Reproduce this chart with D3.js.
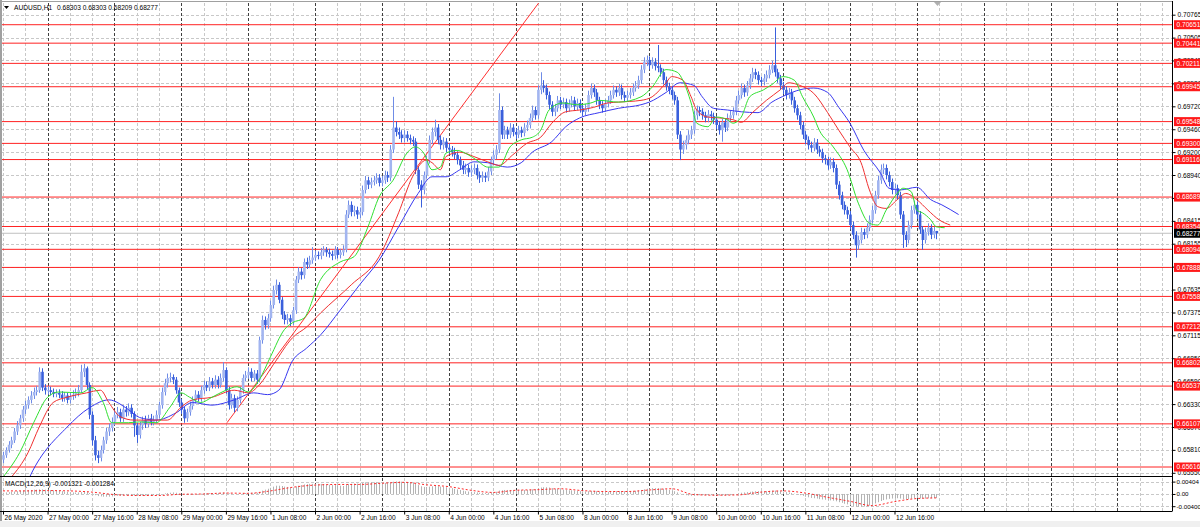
<!DOCTYPE html>
<html><head><meta charset="utf-8">
<script src="https://cdn.jsdelivr.net/npm/d3@7"></script>
<style>
body{margin:0;background:#fff;overflow:hidden}
svg{display:block}
text{font-family:"Liberation Sans",Arial,sans-serif;}
</style>
</head><body>
<svg id="c" width="1200" height="527"></svg>
<script>
// ---------------- DATA ----------------
const symbolTitle = "AUDUSD,H1";
const titleValues = "0.68303 0.68303 0.68209 0.68277";
const macdTitle = "MACD(12,26,9) -0.001321 -0.001284";

const openP = [
0.6570,0.6575,0.6581,0.6587,0.6592,0.6602,0.6609,0.6617,0.6627,0.6632,0.6638,0.6643,0.6647,0.6649,0.6670,0.6652,
0.6649,0.6649,0.6647,0.6645,0.6646,0.6644,0.6640,0.6643,0.6638,0.6642,0.6644,0.6646,0.6649,0.6670,0.6674,0.6655,
0.6621,0.6592,0.6575,0.6572,0.6581,0.6592,0.6602,0.6606,0.6613,0.6621,0.6624,0.6617,0.6627,0.6624,0.6629,0.6622,
0.6609,0.6598,0.6609,0.6615,0.6611,0.6617,0.6613,0.6615,0.6621,0.6632,0.6647,0.6657,0.6663,0.6664,0.6661,0.6649,
0.6635,0.6627,0.6617,0.6624,0.6631,0.6638,0.6644,0.6640,0.6649,0.6655,0.6652,0.6659,0.6655,0.6661,0.6655,0.6663,
0.6672,0.6649,0.6632,0.6640,0.6629,0.6638,0.6649,0.6663,0.6666,0.6670,0.6663,0.6668,0.6661,0.6706,0.6729,0.6723,
0.6731,0.6746,0.6763,0.6769,0.6752,0.6735,0.6729,0.6731,0.6727,0.6740,0.6775,0.6784,0.6780,0.6795,0.6792,0.6797,
0.6800,0.6803,0.6802,0.6806,0.6809,0.6806,0.6804,0.6802,0.6809,0.6803,0.6806,0.6809,0.6849,0.6860,0.6852,0.6854,
0.6849,0.6852,0.6877,0.6888,0.6883,0.6886,0.6888,0.6891,0.6885,0.6888,0.6894,0.6891,0.6923,0.6948,0.6943,0.6940,
0.6936,0.6940,0.6936,0.6934,0.6932,0.6900,0.6883,0.6877,0.6894,0.6911,0.6934,0.6943,0.6948,0.6934,0.6928,0.6932,
0.6925,0.6923,0.6920,0.6917,0.6911,0.6905,0.6900,0.6902,0.6897,0.6900,0.6902,0.6894,0.6891,0.6893,0.6891,0.6898,
0.6911,0.6917,0.6923,0.6968,0.6940,0.6945,0.6940,0.6948,0.6943,0.6940,0.6945,0.6942,0.6948,0.6951,0.6959,0.6968,
0.6962,0.6991,0.6996,0.6993,0.6985,0.6974,0.6966,0.6970,0.6979,0.6974,0.6977,0.6970,0.6975,0.6979,0.6972,0.6976,
0.6970,0.6966,0.6970,0.6985,0.6993,0.6988,0.6979,0.6974,0.6970,0.6975,0.6979,0.6985,0.6991,0.6988,0.6993,0.6985,
0.6982,0.6985,0.6988,0.6993,0.6996,0.7002,0.7014,0.7023,0.7025,0.7019,0.7023,0.7018,0.7016,0.7011,0.7002,0.6995,
0.6991,0.6985,0.6979,0.6940,0.6923,0.6928,0.6934,0.6940,0.6945,0.6962,0.6968,0.6966,0.6962,0.6959,0.6963,0.6961,
0.6957,0.6951,0.6945,0.6954,0.6948,0.6959,0.6962,0.6966,0.6979,0.6985,0.6993,0.6988,0.6996,0.7004,0.7011,0.7008,
0.7002,0.7000,0.7004,0.7008,0.7014,0.7019,0.7011,0.7004,0.6996,0.6991,0.6985,0.6988,0.6979,0.6970,0.6962,0.6951,
0.6940,0.6934,0.6928,0.6925,0.6931,0.6923,0.6920,0.6913,0.6911,0.6905,0.6909,0.6902,0.6883,0.6871,0.6860,0.6854,
0.6849,0.6837,0.6826,0.6814,0.6820,0.6829,0.6826,0.6834,0.6843,0.6854,0.6871,0.6888,0.6900,0.6902,0.6894,0.6886,
0.6877,0.6879,0.6871,0.6849,0.6826,0.6820,0.6837,0.6854,0.6860,0.6849,0.6832,0.6820,0.6829,0.6834,0.6826,0.68303];

const highP = [
0.6579,0.6584,0.6591,0.6596,0.6606,0.6614,0.6621,0.6631,0.6637,0.6642,0.6648,0.6652,0.6654,0.6675,0.6674,0.6656,
0.6654,0.6653,0.6651,0.6650,0.6650,0.6648,0.6647,0.6646,0.6646,0.6649,0.6651,0.6655,0.6678,0.6679,0.6676,0.6658,
0.6625,0.6597,0.6580,0.6586,0.6596,0.6606,0.6611,0.6618,0.6626,0.6630,0.6628,0.6632,0.6631,0.6634,0.6633,0.6625,
0.6612,0.6613,0.6619,0.6620,0.6621,0.6622,0.6620,0.6626,0.6636,0.6652,0.6662,0.6668,0.6669,0.6667,0.6664,0.6652,
0.6639,0.6630,0.6628,0.6636,0.6642,0.6649,0.6648,0.6654,0.6660,0.6659,0.6664,0.6663,0.6666,0.6665,0.6668,0.6681,
0.6675,0.6653,0.6645,0.6644,0.6642,0.6653,0.6667,0.6671,0.6675,0.6674,0.6672,0.6672,0.6710,0.6734,0.6733,0.6736,
0.6751,0.6768,0.6775,0.6772,0.6755,0.6739,0.6736,0.6735,0.6744,0.6779,0.6789,0.6788,0.6799,0.6800,0.6802,0.6812,
0.6808,0.6807,0.6811,0.6813,0.6812,0.6810,0.6808,0.6813,0.6812,0.6810,0.6814,0.6854,0.6865,0.6864,0.6859,0.6858,
0.6857,0.6882,0.6893,0.6892,0.6891,0.6893,0.6896,0.6895,0.6893,0.6899,0.6898,0.6928,0.6983,0.6955,0.6948,0.6945,
0.6945,0.6944,0.6940,0.6938,0.6936,0.6904,0.6888,0.6898,0.6916,0.6939,0.6948,0.6957,0.6952,0.6939,0.6937,0.6936,
0.6930,0.6927,0.6925,0.6921,0.6915,0.6910,0.6907,0.6906,0.6905,0.6907,0.6906,0.6898,0.6898,0.6897,0.6903,0.6915,
0.6922,0.6928,0.6987,0.6972,0.6950,0.6949,0.6953,0.6952,0.6947,0.6950,0.6949,0.6953,0.6956,0.6964,0.6973,0.6972,
0.6996,0.7011,0.7002,0.6997,0.6989,0.6978,0.6975,0.6984,0.6983,0.6982,0.6981,0.6980,0.6984,0.6983,0.6981,0.6980,
0.6974,0.6975,0.6990,0.6998,0.6997,0.6992,0.6983,0.6978,0.6980,0.6984,0.6990,0.6996,0.6995,0.6998,0.6997,0.6989,
0.6990,0.6993,0.6998,0.7001,0.7007,0.7019,0.7028,0.7030,0.7029,0.7028,0.7027,0.7042,0.7020,0.7015,0.7006,0.6999,
0.6995,0.6989,0.6983,0.6944,0.6933,0.6939,0.6945,0.6950,0.6967,0.6973,0.6972,0.6970,0.6966,0.6968,0.6967,0.6965,
0.6961,0.6955,0.6958,0.6958,0.6964,0.6967,0.6971,0.6984,0.6990,0.6998,0.6997,0.7001,0.7009,0.7016,0.7015,0.7012,
0.7006,0.7009,0.7013,0.7019,0.7024,0.7062,0.7015,0.7008,0.7000,0.6995,0.6993,0.6992,0.6983,0.6974,0.6966,0.6955,
0.6944,0.6938,0.6932,0.6936,0.6935,0.6927,0.6924,0.6917,0.6915,0.6914,0.6913,0.6906,0.6887,0.6875,0.6864,0.6858,
0.6853,0.6841,0.6830,0.6825,0.6834,0.6833,0.6839,0.6848,0.6859,0.6876,0.6893,0.6906,0.6907,0.6906,0.6898,0.6890,
0.6884,0.6883,0.6875,0.6853,0.6830,0.6842,0.6859,0.6865,0.6864,0.6853,0.6836,0.6834,0.6839,0.6838,0.6835,0.68303];

const lowP = [
0.6566,0.6572,0.6578,0.6583,0.6589,0.6598,0.6605,0.6613,0.6622,0.6628,0.6634,0.6639,0.6643,0.6646,0.6648,0.6644,
0.6644,0.6643,0.6641,0.6641,0.6640,0.6636,0.6636,0.6634,0.6634,0.6638,0.6640,0.6642,0.6646,0.6664,0.6650,0.6616,
0.6586,0.6569,0.6566,0.6568,0.6577,0.6588,0.6597,0.6602,0.6609,0.6617,0.6613,0.6613,0.6619,0.6620,0.6618,0.6596,
0.6589,0.6594,0.6604,0.6606,0.6607,0.6609,0.6609,0.6611,0.6617,0.6628,0.6643,0.6652,0.6658,0.6656,0.6645,0.6630,
0.6622,0.6612,0.6613,0.6620,0.6627,0.6634,0.6636,0.6636,0.6645,0.6648,0.6648,0.6651,0.6651,0.6651,0.6652,0.6659,
0.6645,0.6627,0.6628,0.6624,0.6625,0.6634,0.6645,0.6659,0.6662,0.6659,0.6659,0.6656,0.6658,0.6702,0.6718,0.6719,
0.6727,0.6742,0.6758,0.6748,0.6730,0.6724,0.6724,0.6722,0.6723,0.6736,0.6771,0.6775,0.6776,0.6787,0.6788,0.6793,
0.6796,0.6798,0.6798,0.6802,0.6801,0.6800,0.6797,0.6798,0.6799,0.6799,0.6802,0.6806,0.6845,0.6847,0.6847,0.6844,
0.6845,0.6848,0.6873,0.6878,0.6879,0.6882,0.6884,0.6881,0.6881,0.6884,0.6886,0.6887,0.6919,0.6938,0.6935,0.6931,
0.6931,0.6932,0.6929,0.6927,0.6895,0.6878,0.6857,0.6872,0.6890,0.6907,0.6929,0.6938,0.6929,0.6923,0.6923,0.6920,
0.6918,0.6915,0.6912,0.6906,0.6900,0.6895,0.6895,0.6892,0.6892,0.6895,0.6889,0.6885,0.6886,0.6886,0.6887,0.6894,
0.6906,0.6912,0.6919,0.6935,0.6935,0.6935,0.6936,0.6938,0.6935,0.6936,0.6937,0.6938,0.6944,0.6947,0.6955,0.6957,
0.6958,0.6986,0.6988,0.6980,0.6969,0.6961,0.6961,0.6966,0.6969,0.6970,0.6965,0.6966,0.6971,0.6967,0.6968,0.6965,
0.6961,0.6962,0.6966,0.6981,0.6983,0.6974,0.6969,0.6965,0.6966,0.6971,0.6975,0.6981,0.6983,0.6984,0.6980,0.6977,
0.6978,0.6981,0.6984,0.6989,0.6992,0.6998,0.7010,0.7018,0.7014,0.7015,0.7013,0.7011,0.7006,0.6997,0.6990,0.6986,
0.6980,0.6974,0.6935,0.6911,0.6918,0.6923,0.6929,0.6935,0.6941,0.6957,0.6961,0.6957,0.6954,0.6954,0.6956,0.6952,
0.6946,0.6940,0.6932,0.6943,0.6944,0.6955,0.6958,0.6962,0.6975,0.6981,0.6983,0.6984,0.6992,0.7000,0.7003,0.6997,
0.6995,0.6996,0.7000,0.7004,0.7010,0.7006,0.6999,0.6991,0.6986,0.6980,0.6981,0.6974,0.6965,0.6957,0.6946,0.6935,
0.6929,0.6923,0.6920,0.6921,0.6918,0.6915,0.6908,0.6906,0.6900,0.6901,0.6897,0.6878,0.6866,0.6855,0.6849,0.6844,
0.6832,0.6821,0.6800,0.6809,0.6816,0.6821,0.6822,0.6830,0.6839,0.6850,0.6867,0.6884,0.6895,0.6889,0.6881,0.6872,
0.6872,0.6866,0.6844,0.6811,0.6812,0.6816,0.6833,0.6850,0.6844,0.6827,0.6809,0.6816,0.6825,0.6821,0.6822,0.68209];

const closeP = [
0.6575,0.6581,0.6587,0.6592,0.6602,0.6609,0.6617,0.6627,0.6632,0.6638,0.6643,0.6647,0.6649,0.6670,0.6652,0.6649,
0.6649,0.6647,0.6645,0.6646,0.6644,0.6640,0.6643,0.6638,0.6642,0.6644,0.6646,0.6649,0.6670,0.6674,0.6655,0.6621,
0.6592,0.6575,0.6572,0.6581,0.6592,0.6602,0.6606,0.6613,0.6621,0.6624,0.6617,0.6627,0.6624,0.6629,0.6622,0.6609,
0.6598,0.6609,0.6615,0.6611,0.6617,0.6613,0.6615,0.6621,0.6632,0.6647,0.6657,0.6663,0.6664,0.6661,0.6649,0.6635,
0.6627,0.6617,0.6624,0.6631,0.6638,0.6644,0.6640,0.6649,0.6655,0.6652,0.6659,0.6655,0.6661,0.6655,0.6663,0.6672,
0.6649,0.6632,0.6640,0.6629,0.6638,0.6649,0.6663,0.6666,0.6670,0.6663,0.6668,0.6661,0.6706,0.6729,0.6723,0.6731,
0.6746,0.6763,0.6769,0.6752,0.6735,0.6729,0.6731,0.6727,0.6740,0.6775,0.6784,0.6780,0.6795,0.6792,0.6797,0.6800,
0.6803,0.6802,0.6806,0.6809,0.6806,0.6804,0.6802,0.6809,0.6803,0.6806,0.6809,0.6849,0.6860,0.6852,0.6854,0.6849,
0.6852,0.6877,0.6888,0.6883,0.6886,0.6888,0.6891,0.6885,0.6888,0.6894,0.6891,0.6923,0.6948,0.6943,0.6940,0.6936,
0.6940,0.6936,0.6934,0.6932,0.6900,0.6883,0.6877,0.6894,0.6911,0.6934,0.6943,0.6948,0.6934,0.6928,0.6932,0.6925,
0.6923,0.6920,0.6917,0.6911,0.6905,0.6900,0.6902,0.6897,0.6900,0.6902,0.6894,0.6891,0.6893,0.6891,0.6898,0.6911,
0.6917,0.6923,0.6968,0.6940,0.6945,0.6940,0.6948,0.6943,0.6940,0.6945,0.6942,0.6948,0.6951,0.6959,0.6968,0.6962,
0.6991,0.6996,0.6993,0.6985,0.6974,0.6966,0.6970,0.6979,0.6974,0.6977,0.6970,0.6975,0.6979,0.6972,0.6976,0.6970,
0.6966,0.6970,0.6985,0.6993,0.6988,0.6979,0.6974,0.6970,0.6975,0.6979,0.6985,0.6991,0.6988,0.6993,0.6985,0.6982,
0.6985,0.6988,0.6993,0.6996,0.7002,0.7014,0.7023,0.7025,0.7019,0.7023,0.7018,0.7016,0.7011,0.7002,0.6995,0.6991,
0.6985,0.6979,0.6940,0.6923,0.6928,0.6934,0.6940,0.6945,0.6962,0.6968,0.6966,0.6962,0.6959,0.6963,0.6961,0.6957,
0.6951,0.6945,0.6954,0.6948,0.6959,0.6962,0.6966,0.6979,0.6985,0.6993,0.6988,0.6996,0.7004,0.7011,0.7008,0.7002,
0.7000,0.7004,0.7008,0.7014,0.7019,0.7011,0.7004,0.6996,0.6991,0.6985,0.6988,0.6979,0.6970,0.6962,0.6951,0.6940,
0.6934,0.6928,0.6925,0.6931,0.6923,0.6920,0.6913,0.6911,0.6905,0.6909,0.6902,0.6883,0.6871,0.6860,0.6854,0.6849,
0.6837,0.6826,0.6814,0.6820,0.6829,0.6826,0.6834,0.6843,0.6854,0.6871,0.6888,0.6900,0.6902,0.6894,0.6886,0.6877,
0.6879,0.6871,0.6849,0.6826,0.6820,0.6837,0.6854,0.6860,0.6849,0.6832,0.6820,0.6829,0.6834,0.6826,0.68303,0.68277];

// Alligator lines: [bar, price]
const jawPoints = [[6,0.6524],[10,0.6553],[23,0.6607],[31,0.6629],[38,0.6638],[45,0.6627],[49,0.6618],[55,0.6615],[62,0.6623],[68,0.6635],[75,0.6632],[83,0.6638],[90,0.6646],[95,0.6644],[99,0.6649],[104,0.6683],[109,0.6697],[114,0.6712],[121,0.6740],[128,0.6769],[135,0.6797],[142,0.6835],[149,0.6873],[154,0.6892],[159,0.6892],[164,0.6900],[169,0.6909],[174,0.6908],[181,0.6903],[186,0.6908],[190,0.6920],[197,0.6932],[202,0.6949],[207,0.6959],[214,0.6965],[221,0.6970],[229,0.6974],[232,0.6977],[238,0.6988],[243,0.6999],[248,0.6996],[251,0.6983],[255,0.6970],[260,0.6968],[265,0.6966],[271,0.6965],[276,0.6977],[281,0.6985],[286,0.6991],[291,0.6993],[296,0.6988],[300,0.6971],[304,0.6953],[309,0.6922],[315,0.6896],[318,0.6879],[322,0.6877],[328,0.6880],[333,0.6866],[337,0.6860],[343,0.6849]];
const teethPoints = [[3,0.6550],[9,0.6578],[13,0.6607],[18,0.6635],[23,0.6641],[30,0.6646],[35,0.6649],[38,0.6635],[42,0.6619],[47,0.6615],[53,0.6615],[59,0.6615],[64,0.6630],[68,0.6638],[75,0.6641],[83,0.6649],[88,0.6646],[92,0.6655],[97,0.6678],[104,0.6709],[109,0.6721],[114,0.6737],[125,0.6769],[135,0.6801],[142,0.6851],[147,0.6892],[152,0.6911],[154,0.6908],[157,0.6900],[159,0.6915],[164,0.6920],[169,0.6915],[174,0.6909],[178,0.6905],[183,0.6917],[188,0.6930],[193,0.6937],[197,0.6953],[202,0.6966],[207,0.6968],[212,0.6971],[217,0.6976],[221,0.6977],[229,0.6979],[233,0.6983],[238,0.6999],[240,0.7006],[244,0.7002],[247,0.6983],[249,0.6968],[253,0.6960],[257,0.6959],[262,0.6957],[265,0.6954],[269,0.6965],[274,0.6979],[279,0.6991],[282,0.6999],[286,0.6996],[291,0.6987],[296,0.6965],[300,0.6945],[304,0.6926],[308,0.6908],[311,0.6877],[314,0.6858],[317,0.6856],[321,0.6866],[324,0.6873],[328,0.6866],[332,0.6854],[336,0.6843],[340,0.6837]];
const lipsPoints = [[0,0.6550],[6,0.6578],[11,0.6612],[16,0.6641],[20,0.6647],[28,0.6646],[32,0.6652],[36,0.6635],[39,0.6612],[45,0.6612],[49,0.6613],[55,0.6612],[60,0.6630],[64,0.6646],[67,0.6641],[71,0.6635],[75,0.6641],[80,0.6649],[84,0.6653],[88,0.6647],[92,0.6661],[96,0.6687],[101,0.6718],[104,0.6726],[108,0.6731],[114,0.6775],[121,0.6795],[126,0.6801],[131,0.6835],[135,0.6869],[140,0.6888],[145,0.6919],[148,0.6926],[151,0.6919],[154,0.6900],[157,0.6903],[159,0.6919],[163,0.6922],[167,0.6917],[170,0.6911],[174,0.6903],[178,0.6903],[182,0.6926],[186,0.6934],[190,0.6937],[193,0.6945],[196,0.6968],[201,0.6976],[206,0.6974],[211,0.6976],[214,0.6979],[221,0.6977],[229,0.6983],[233,0.6994],[238,0.7014],[242,0.7011],[244,0.7002],[247,0.6976],[249,0.6953],[253,0.6949],[256,0.6960],[260,0.6957],[262,0.6953],[265,0.6960],[268,0.6983],[273,0.6991],[276,0.6997],[280,0.7006],[284,0.7002],[287,0.6983],[291,0.6960],[293,0.6945],[298,0.6926],[303,0.6900],[307,0.6862],[311,0.6839],[314,0.6837],[317,0.6854],[321,0.6873],[323,0.6879],[326,0.6875],[328,0.6854],[330,0.6851],[333,0.6843],[335,0.6835],[338,0.6834]];
const trendPoints = [[80.4,0.6612],[193,0.7093]];

const levels = [0.70651,0.70441,0.70211,0.69945,0.69548,0.69300,0.69116,0.68689,0.68354,0.68094,0.67888,0.67558,0.67212,0.66802,0.66537,0.66107,0.65616];
const levelLabels = ["0.70651","0.70441","0.70211","0.69945","0.69548","0.69300","0.69116","0.68689","0.68354","0.68094","0.67888","0.67558","0.67212","0.66802","0.66537","0.66107","0.65616"];
const lastPrice = 0.68277;
const lastPriceLabel = "0.68277";

const priceTicks = [0.65550,0.65811,0.66072,0.66332,0.66593,0.66854,0.67115,0.67375,0.67636,0.67897,0.68158,0.68418,0.68679,0.68940,0.69201,0.69461,0.69722,0.69983,0.70244,0.70504,0.70765];
const priceTickLabels = ["0.65550","0.65810","0.66070","0.66330","0.66590","0.66850","0.67115","0.67375","0.67635","0.67895","0.68155","0.68415","0.68675","0.68940","0.69200","0.69460","0.69720","0.69980","0.70245","0.70505","0.70765"];

const timeBars = [0,16,32,48,64,80,96,112,128,144,160,176,192,208,224,240,256,272,288,304,320];
const timeLabels = ["26 May 2020","27 May 00:00","27 May 16:00","28 May 08:00","29 May 00:00","29 May 16:00","1 Jun 08:00","2 Jun 00:00","2 Jun 16:00","3 Jun 08:00","4 Jun 00:00","4 Jun 16:00","5 Jun 08:00","8 Jun 00:00","8 Jun 16:00","9 Jun 08:00","10 Jun 00:00","10 Jun 16:00","11 Jun 08:00","12 Jun 00:00","12 Jun 16:00"];

const macdMain = [
0.0004,0.0005,0.0006,0.0007,0.0008,0.0009,0.0010,0.0011,0.0012,0.0013,0.0013,0.0014,0.0014,0.0015,0.0015,0.0014,
0.0014,0.0013,0.0012,0.0011,0.0010,0.0009,0.0008,0.0007,0.0006,0.0005,0.0005,0.0005,0.0006,0.0007,0.0006,0.0003,
-0.0001,-0.0004,-0.0007,-0.0008,-0.0009,-0.0009,-0.0009,-0.0008,-0.0007,-0.0006,-0.0006,-0.0005,-0.0004,-0.0004,-0.0004,-0.0005,
-0.0006,-0.0006,-0.0005,-0.0005,-0.0004,-0.0004,-0.0004,-0.0003,-0.0002,0.0000,0.0002,0.0003,0.0004,0.0005,0.0004,0.0002,
0.0000,-0.0001,-0.0002,-0.0002,-0.0001,0.0000,0.0000,0.0001,0.0002,0.0002,0.0003,0.0003,0.0003,0.0003,0.0004,0.0005,
0.0004,0.0002,0.0001,0.0000,0.0000,0.0001,0.0002,0.0003,0.0004,0.0004,0.0004,0.0004,0.0007,0.0011,0.0014,0.0017,
0.0020,0.0024,0.0027,0.0027,0.0026,0.0024,0.0023,0.0021,0.0021,0.0024,0.0027,0.0029,0.0031,0.0032,0.0033,0.0033,
0.0033,0.0033,0.0033,0.0032,0.0031,0.0030,0.0029,0.0029,0.0028,0.0027,0.0026,0.0029,0.0032,0.0033,0.0034,0.0034,
0.0034,0.0036,0.0038,0.0038,0.0038,0.0038,0.0038,0.0037,0.0036,0.0036,0.0035,0.0037,0.0040,0.0041,0.0041,0.0040,
0.0039,0.0038,0.0037,0.0036,0.0033,0.0029,0.0025,0.0023,0.0023,0.0024,0.0025,0.0026,0.0025,0.0024,0.0023,0.0022,
0.0020,0.0019,0.0017,0.0015,0.0013,0.0011,0.0009,0.0008,0.0007,0.0006,0.0005,0.0004,0.0003,0.0003,0.0004,0.0005,
0.0006,0.0007,0.0011,0.0012,0.0013,0.0013,0.0013,0.0013,0.0013,0.0013,0.0013,0.0013,0.0013,0.0014,0.0015,0.0016,
0.0019,0.0021,0.0022,0.0022,0.0021,0.0019,0.0017,0.0016,0.0015,0.0014,0.0013,0.0012,0.0012,0.0011,0.0010,0.0009,
0.0008,0.0008,0.0009,0.0010,0.0010,0.0009,0.0008,0.0007,0.0007,0.0007,0.0008,0.0009,0.0009,0.0009,0.0009,0.0009,
0.0009,0.0009,0.0010,0.0010,0.0011,0.0013,0.0015,0.0017,0.0018,0.0019,0.0019,0.0019,0.0018,0.0017,0.0015,0.0013,
0.0011,0.0009,0.0005,0.0001,-0.0002,-0.0004,-0.0005,-0.0006,-0.0005,-0.0004,-0.0004,-0.0004,-0.0004,-0.0004,-0.0004,-0.0004,
-0.0004,-0.0005,-0.0005,-0.0005,-0.0004,-0.0003,-0.0002,0.0000,0.0002,0.0004,0.0005,0.0006,0.0007,0.0008,0.0009,0.0009,
0.0009,0.0009,0.0009,0.0010,0.0011,0.0011,0.0010,0.0009,0.0008,0.0006,0.0005,0.0003,0.0001,-0.0001,-0.0004,-0.0006,
-0.0009,-0.0011,-0.0013,-0.0014,-0.0015,-0.0017,-0.0018,-0.0019,-0.0020,-0.0021,-0.0022,-0.0024,-0.0027,-0.0029,-0.0032,-0.0034,
-0.0037,-0.0039,-0.0041,-0.0042,-0.0042,-0.0041,-0.0040,-0.0038,-0.0035,-0.0031,-0.0027,-0.0023,-0.0020,-0.0018,-0.0016,-0.0015,
-0.0014,-0.0014,-0.0015,-0.0017,-0.0018,-0.0017,-0.0015,-0.0013,-0.0013,-0.0014,-0.0015,-0.0015,-0.0014,-0.0014,-0.0013,-0.001321];
const signalPoints = [[0,0.0010],[8,0.0010],[16,0.0011],[24,0.0010],[32,0.0006],[40,-0.0002],[48,-0.0005],[56,-0.0005],[64,-0.0001],[72,0.0000],[80,0.0003],[88,0.0002],[96,0.0010],[104,0.0022],[112,0.0029],[120,0.0031],[128,0.0031],[136,0.0035],[144,0.0038],[152,0.0030],[160,0.0024],[168,0.0012],[176,0.0005],[184,0.0012],[192,0.0014],[200,0.0017],[208,0.0011],[216,0.0008],[224,0.0008],[232,0.0013],[240,0.0017],[248,-0.0002],[256,-0.0004],[264,-0.0003],[272,0.0006],[280,0.0010],[288,0.0003],[296,-0.0011],[304,-0.0024],[312,-0.0038],[320,-0.0025],[328,-0.0015],[335,-0.001284]];
const macdTicks = [0.00404,0,-0.004];
const macdTickLabels = ["0.00404","0.00","-0.00400"];

// ---------------- DRAW ----------------
const svg = d3.select('#c');
const W = 1200, H = 527;
const plotL = 1, plotR = 1172, plotT = 3, plotB = 476, macdT = 477, macdB = 511;
const FS = 6.6;

svg.append('rect').attr('width',W).attr('height',H).attr('fill','#fff');
svg.append('rect').attr('x',0).attr('y',521).attr('width',W).attr('height',6).attr('fill','#f0f0f0');

const x = d3.scaleLinear().domain([0,335]).range([3,936.3]);
const y = d3.scaleLinear().domain([priceTicks[0], priceTicks[priceTicks.length-1]]).range([472.8,14.7]);
const ym = d3.scaleLinear().domain([-0.004,0.00404]).range([506.2,481.6]);

const defs = svg.append('defs');
defs.append('clipPath').attr('id','clipMain').append('rect').attr('x',plotL).attr('y',plotT).attr('width',plotR-plotL).attr('height',plotB-plotT);
defs.append('clipPath').attr('id','clipMacd').append('rect').attr('x',plotL).attr('y',macdT).attr('width',plotR-plotL).attr('height',macdB-macdT);

// grid
const grid = svg.append('g');
grid.selectAll('line.hg').data(priceTicks).join('line')
  .attr('x1',plotL).attr('x2',plotR)
  .attr('y1',d=>Math.round(y(d))+0.5).attr('y2',d=>Math.round(y(d))+0.5)
  .attr('stroke','#c8c8c8').attr('stroke-dasharray','3,2').attr('stroke-width',1);
grid.selectAll('line.mg').data(macdTicks).join('line')
  .attr('x1',plotL).attr('x2',plotR)
  .attr('y1',d=>Math.round(ym(d))+0.5).attr('y2',d=>Math.round(ym(d))+0.5)
  .attr('stroke','#c8c8c8').attr('stroke-dasharray','3,2');
const vBars = d3.range(0, 420, 8);
grid.selectAll('line.vg').data(vBars).join('line')
  .attr('x1',d=>Math.round(x(d))+0.5).attr('x2',d=>Math.round(x(d))+0.5)
  .attr('y1',plotT).attr('y2',macdB)
  .attr('stroke',d=>((d-16)%24===0)?'#404040':'#c8c8c8')
  .attr('stroke-dasharray','3,2');

// level lines & price line
const gm = svg.append('g').attr('clip-path','url(#clipMain)');
gm.append('line').attr('x1',plotL).attr('x2',plotR).attr('y1',y(lastPrice)).attr('y2',y(lastPrice))
  .attr('stroke','#c0c0c0').attr('stroke-width',1);
gm.selectAll('line.lv').data(levels).join('line')
  .attr('x1',0).attr('x2',plotR).attr('y1',d=>y(d)).attr('y2',d=>y(d))
  .attr('stroke','#ff2222').attr('stroke-width',1);

// trendline
const lineGen = d3.line().x(d=>x(d[0])).y(d=>y(d[1]));
gm.append('path').attr('d',lineGen(trendPoints)).attr('fill','none').attr('stroke','#ff3030').attr('stroke-width',1);

// candles
const bars = d3.range(closeP.length);
const cg = gm.append('g');
cg.selectAll('line.wick').data(bars).join('line')
  .attr('x1',i=>Math.round(x(i))+0.5).attr('x2',i=>Math.round(x(i))+0.5)
  .attr('y1',i=>y(highP[i])).attr('y2',i=>y(lowP[i]))
  .attr('stroke',i=>closeP[i]>=openP[i]?'#6f8ce6':'#3a60dc').attr('stroke-width',1);
cg.selectAll('rect.body').data(bars).join('rect')
  .attr('x',i=>x(i)-0.8).attr('width',2.6)
  .attr('y',i=>y(Math.max(openP[i],closeP[i])))
  .attr('height',i=>Math.max(1,Math.abs(y(openP[i])-y(closeP[i]))))
  .attr('fill',i=>closeP[i]>=openP[i]?'#a2b5f0':'#3a60dc');

// alligator
const curve = d3.line().x(d=>x(d[0])).y(d=>y(d[1])).curve(d3.curveMonotoneX);
gm.append('path').attr('d',curve(jawPoints)).attr('fill','none').attr('stroke','#3838f0').attr('stroke-width',1);
gm.append('path').attr('d',curve(teethPoints)).attr('fill','none').attr('stroke','#f03030').attr('stroke-width',1);
gm.append('path').attr('d',curve(lipsPoints)).attr('fill','none').attr('stroke','#30e030').attr('stroke-width',1);

// MACD
const gmac = svg.append('g').attr('clip-path','url(#clipMacd)');
gmac.selectAll('line.h').data(bars).join('line')
  .attr('x1',i=>Math.round(x(i))+0.5).attr('x2',i=>Math.round(x(i))+0.5)
  .attr('y1',ym(0)).attr('y2',i=>ym(macdMain[i]))
  .attr('stroke','#b4b4b4').attr('stroke-width',1);
const sline = d3.line().x(d=>x(d[0])).y(d=>ym(d[1])).curve(d3.curveMonotoneX);
gmac.append('path').attr('d',sline(signalPoints)).attr('fill','none').attr('stroke','#ff2a2a')
  .attr('stroke-width',1).attr('stroke-dasharray','2,2');

// frames
svg.append('rect').attr('x',0).attr('y',0).attr('width',2).attr('height',521).attr('fill','#a0a0a0');
svg.append('line').attr('x1',0).attr('x2',plotR).attr('y1',1.5).attr('y2',1.5).attr('stroke','#a0a0a0');
svg.append('line').attr('x1',plotR+0.5).attr('x2',plotR+0.5).attr('y1',1).attr('y2',macdB+0.5).attr('stroke','#000');
svg.append('line').attr('x1',0).attr('x2',plotR).attr('y1',plotB+0.5).attr('y2',plotB+0.5).attr('stroke','#000');
svg.append('line').attr('x1',0).attr('x2',plotR).attr('y1',macdB+0.5).attr('y2',macdB+0.5).attr('stroke','#000');

// price axis
const ax = svg.append('g').attr('transform',`translate(${plotR+0.5},0)`)
  .call(d3.axisRight(y).tickValues(priceTicks).tickFormat((d,i)=>priceTickLabels[i]).tickSize(3).tickPadding(2));
ax.select('.domain').remove();
ax.selectAll('text').attr('font-size',FS).attr('font-family','"Liberation Sans",Arial,sans-serif').attr('fill','#000');
ax.selectAll('line').attr('stroke','#000');

const axm = svg.append('g').attr('transform',`translate(${plotR+0.5},0)`)
  .call(d3.axisRight(ym).tickValues(macdTicks).tickFormat((d,i)=>macdTickLabels[i]).tickSize(3).tickPadding(1));
axm.select('.domain').remove();
axm.selectAll('text').attr('font-size',6.2).attr('font-family','"Liberation Sans",Arial,sans-serif').attr('fill','#000');

// level labels
const lg = svg.append('g');
levels.forEach((v,i)=>{
  const yy = y(v);
  lg.append('rect').attr('x',plotR+2).attr('y',yy-4.5).attr('width',W-plotR-2).attr('height',9).attr('fill','#ff1a1a');
  lg.append('text').attr('x',plotR+4.5).attr('y',yy+2.4).attr('font-size',FS).attr('fill','#fff').text(levelLabels[i]);
});
{
  const yy = y(lastPrice);
  lg.append('rect').attr('x',plotR+2).attr('y',yy-4.5).attr('width',W-plotR-2).attr('height',9).attr('fill','#000');
  lg.append('text').attr('x',plotR+4.5).attr('y',yy+2.4).attr('font-size',FS).attr('fill','#fff').text(lastPriceLabel);
}

// time axis
const axx = svg.append('g').attr('transform',`translate(0,${macdB+0.5})`)
  .call(d3.axisBottom(x).tickValues(timeBars).tickFormat((d,i)=>timeLabels[i]).tickSize(3).tickPadding(2));
axx.select('.domain').remove();
axx.selectAll('text').attr('font-size',FS).attr('text-anchor','start').attr('dx',1).attr('dy','0.55em')
  .attr('font-family','"Liberation Sans",Arial,sans-serif').attr('fill','#000');
axx.selectAll('line').attr('stroke','#000');

// titles
svg.append('path').attr('d','M4,6 L9,6 L6.5,9 Z').attr('fill','#000');
svg.append('text').attr('x',14).attr('y',10).attr('font-size',FS).attr('fill','#000').text(symbolTitle);
svg.append('text').attr('x',57).attr('y',10).attr('font-size',FS).attr('fill','#000').text(titleValues);
svg.append('text').attr('x',5).attr('y',486).attr('font-size',FS).attr('fill','#000').text(macdTitle);
// shift marker
svg.append('path').attr('d','M934,2 L941,2 L937.5,6 Z').attr('fill','#b0b0b0');
</script>
</body></html>
